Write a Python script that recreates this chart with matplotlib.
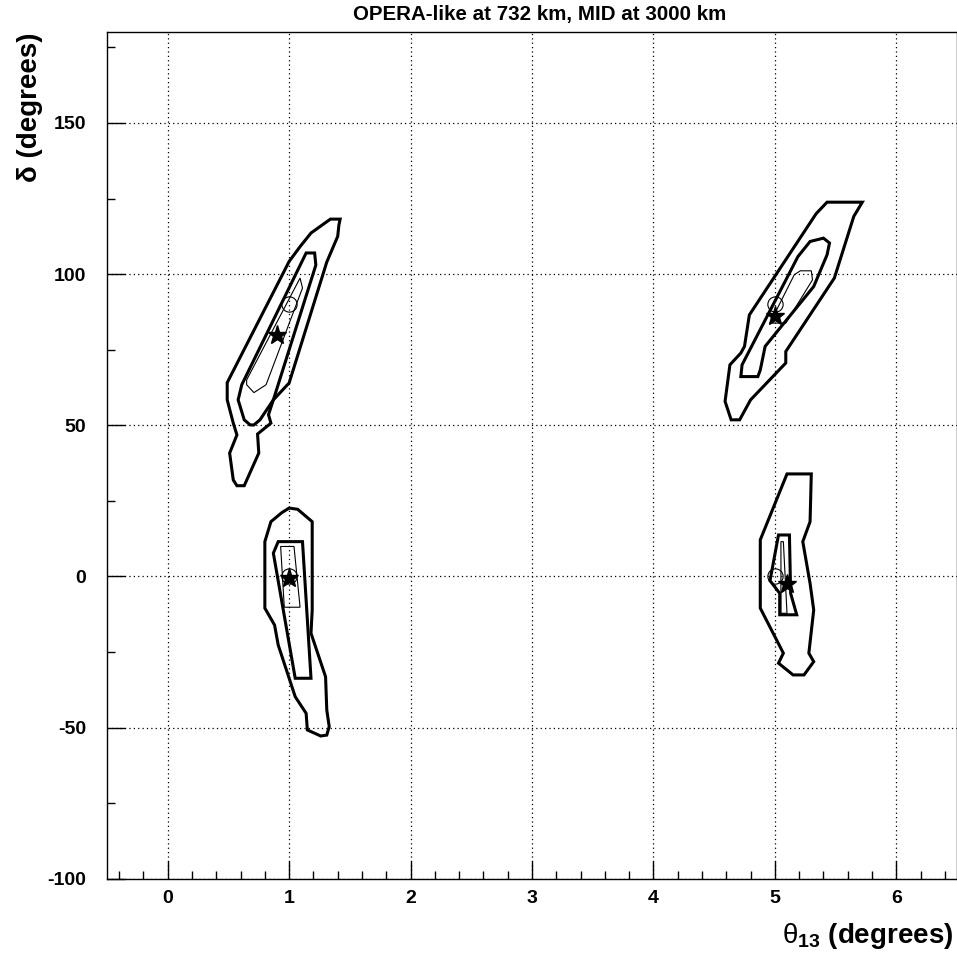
import matplotlib
matplotlib.use('Agg')
import matplotlib.pyplot as plt
from matplotlib.ticker import MultipleLocator

plt.rcParams['font.family'] = ['Liberation Sans', 'DejaVu Sans']
plt.rcParams['mathtext.fontset'] = 'custom'
plt.rcParams['mathtext.rm'] = 'Liberation Sans'
plt.rcParams['mathtext.bf'] = 'Liberation Sans:bold'
plt.rcParams['mathtext.it'] = 'Liberation Sans:italic'
plt.rcParams['axes.unicode_minus'] = False

TITLE = 'OPERA-like at 732 km, MID at 3000 km'

# contours (theta13 in degrees, delta in degrees)
ul_outer_x = [1.34, 1.42, 1.41, 1.40, 1.31, 1.00, 0.87, 0.83, 0.85, 0.74, 0.75, 0.70,
              0.63, 0.57, 0.54, 0.51, 0.57, 0.54, 0.49, 0.49, 1.00, 1.09, 1.18]
ul_outer_y = [118.2, 118.2, 116.3, 112.5, 104, 64, 58.4, 53.5, 50.7, 47.1, 40.8, 36.3,
              30, 30, 31.9, 40.8, 46.8, 50.7, 58.4, 64.1, 104.2, 109.1, 113.6]
ul_mid_x = [1.14, 1.21, 1.22, 0.87, 0.76, 0.71, 0.68, 0.63, 0.58, 0.61]
ul_mid_y = [107, 107, 103, 58.4, 51.8, 50.1, 50.1, 51.8, 58.4, 63.4]
ul_in_x = [1.09, 1.11, 0.81, 0.71, 0.65, 0.65]
ul_in_y = [98.7, 95.4, 63.4, 60.8, 63.4, 65.0]

ll_outer_x = [1.00, 1.07, 1.19, 1.19, 1.18, 1.30, 1.31, 1.33, 1.31, 1.26, 1.15, 1.14,
              1.05, 0.91, 0.88, 0.80, 0.80, 0.85, 0.94]
ll_outer_y = [22.6, 22.2, 18.1, -11.1, -18.8, -33.2, -44.2, -49.7, -52.5, -52.8, -50.8, -45.3,
              -39.8, -22.7, -16.1, -10.5, 11.5, 18.1, 21.1]
ll_mid_x = [0.91, 1.11, 1.18, 1.05, 0.87]
ll_mid_y = [11.5, 11.5, -33.7, -33.7, 7.7]
ll_in_x = [0.93, 1.04, 1.09, 0.96]
ll_in_y = [9.9, 9.9, -10.2, -10.2]

ur_outer_x = [5.43, 5.72, 5.65, 5.49, 5.09, 5.09, 4.80, 4.71, 4.64, 4.59, 4.63, 4.72,
              4.75, 4.79, 5.34]
ur_outer_y = [123.8, 123.8, 119.1, 98.7, 74.4, 70.6, 58.4, 51.8, 51.8, 57.9, 70.0, 73.9,
              76.1, 86.5, 120.0]
ur_mid_x = [5.29, 5.40, 5.45, 5.43, 5.32, 4.92, 4.88, 4.86, 4.72, 4.73, 5.19]
ur_mid_y = [110.8, 111.9, 110.3, 106.4, 95.9, 76.1, 68.3, 66.1, 66.1, 70.0, 105.8]
ur_in_x = [5.21, 5.30, 5.31, 5.09, 4.96, 5.16]
ur_in_y = [101.1, 101.1, 98.1, 83.8, 83.8, 99.8]

lr_outer_x = [5.10, 5.30, 5.29, 5.23, 5.29, 5.32, 5.28, 5.32, 5.24, 5.15, 5.03, 5.07,
              4.88, 4.88, 4.88, 4.99]
lr_outer_y = [33.9, 33.9, 18.1, 11.5, -2.3, -11.1, -25.4, -28.2, -32.6, -32.6, -28.7, -25.4,
              -10.5, 1.1, 12.1, 23.0]
lr_mid_x = [5.03, 5.12, 5.13, 5.18, 5.04, 5.04, 4.96]
lr_mid_y = [13.7, 13.7, -5.6, -12.7, -12.7, -5.6, -1.4]
lr_in_x = [5.05, 5.07, 5.10, 5.05]
lr_in_y = [11.5, 11.5, -12.2, -12.2]

# true values (circles) and fitted points (stars)
true_x = [1.0, 1.0, 5.0, 5.0]
true_y = [90, 0, 90, 0]
fit_x = [0.9, 1.0, 5.0, 5.1]
fit_y = [80, -0.5, 86, -2.5]

fig = plt.figure(figsize=(9.57, 9.56), dpi=100)
ax = fig.add_axes([0.1118, 0.0809, 0.8882, 0.8853])

thick = [(ul_outer_x, ul_outer_y), (ul_mid_x, ul_mid_y),
         (ll_outer_x, ll_outer_y), (ll_mid_x, ll_mid_y),
         (ur_outer_x, ur_outer_y), (ur_mid_x, ur_mid_y),
         (lr_outer_x, lr_outer_y), (lr_mid_x, lr_mid_y)]
thin = [(ul_in_x, ul_in_y), (ll_in_x, ll_in_y), (ur_in_x, ur_in_y), (lr_in_x, lr_in_y)]

for xs, ys in thick:
    ax.fill(xs, ys, facecolor='none', edgecolor='black', linewidth=2.2, joinstyle='miter', zorder=3)
for xs, ys in thin:
    ax.fill(xs, ys, facecolor='none', edgecolor='black', linewidth=0.8, zorder=3)

ax.plot(true_x, true_y, ls='none', marker='o', markersize=11, markerfacecolor='none',
        markeredgecolor='black', markeredgewidth=0.8, zorder=4)
ax.plot(fit_x, fit_y, ls='none', marker='*', markersize=14, color='black', zorder=5)

ax.set_xlim(-0.5, 6.5)
ax.set_ylim(-100, 180)

ax.xaxis.set_major_locator(MultipleLocator(1))
ax.xaxis.set_minor_locator(MultipleLocator(0.2))
ax.yaxis.set_major_locator(MultipleLocator(50))
ax.yaxis.set_minor_locator(MultipleLocator(25))

ax.tick_params(which='both', direction='in', top=False, right=False, width=1.0)
ax.tick_params(which='major', length=13)
ax.tick_params(which='minor', length=6)
ax.tick_params(axis='x', which='major', pad=8, labelsize=14)
ax.tick_params(axis='y', which='major', pad=15, labelsize=14)
for lab in ax.get_xticklabels() + ax.get_yticklabels():
    lab.set_fontweight('bold')

for sp in ax.spines.values():
    sp.set_linewidth(1.0)

ax.grid(True, which='major', color='black', linestyle=(0, (1, 2.5)), linewidth=0.9)

ax.set_xlabel(r'$\mathrm{\theta}_{\mathbf{13}}$ (degrees)', fontsize=20, fontweight='bold',
              loc='right', labelpad=10)
ax.xaxis.label.set_x(0.996)
ax.set_ylabel('δ (degrees)', fontsize=20, fontweight='bold', loc='top', labelpad=3)

fig.text(0.564, 0.985, TITLE, ha='center', va='center', fontsize=14.8, fontweight='bold')

fig.savefig('out.png', dpi=100)
